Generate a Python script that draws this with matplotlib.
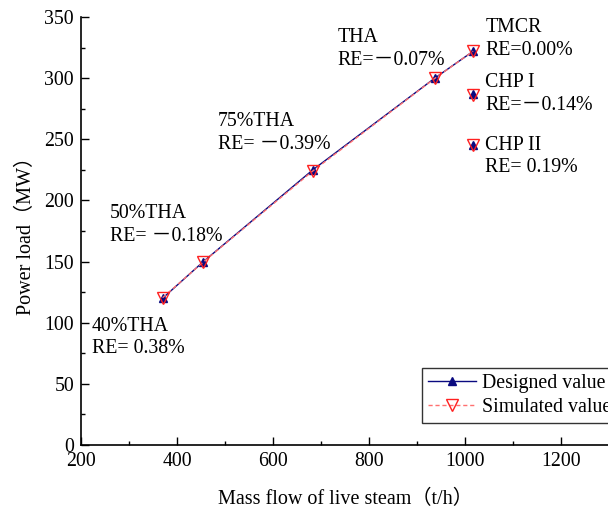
import matplotlib
matplotlib.use("Agg")
import matplotlib.pyplot as plt
from matplotlib.ticker import MultipleLocator

plt.rcParams['font.family'] = ['Liberation Serif', 'Noto Sans CJK SC']

# Operating conditions along the main load line
line_cases = ["40%THA", "50%THA", "75%THA", "THA", "TMCR"]
line_flow = [370, 455, 683, 937, 1017]          # t/h
line_design = [120, 150, 225, 300, 322]          # MW
line_re = [0.38, -0.18, -0.39, -0.07, 0.00]      # %

# Combined heat and power conditions (no connecting line)
chp_cases = ["CHP I", "CHP II"]
chp_flow = [1017, 1017]
chp_design = [287, 245]
chp_re = [-0.14, 0.19]

line_sim = [d * (1 + r / 100) for d, r in zip(line_design, line_re)]
chp_sim = [d * (1 + r / 100) for d, r in zip(chp_design, chp_re)]

# Annotation labels and their anchor positions (data coordinates)
labels = ["40%THA\nRE= 0.38%", "50%THA\nRE= －0.18%", "75%THA\nRE= －0.39%",
          "THA\nRE=－0.07%", "TMCR\nRE=0.00%", "CHP I\nRE=－0.14%", "CHP II\nRE= 0.19%"]
label_x = [223, 260, 485, 735, 1042, 1042, 1042]
label_y = [88, 180, 255, 324, 332, 287, 236]

navy = "#0A0A80"
red = "#FF2020"

fig = plt.figure(figsize=(6.08, 5.11), dpi=100)
ax = fig.add_axes([81 / 608, 66 / 511, 528 / 608, 428 / 511])

ax.plot(line_flow, line_design, color=navy, lw=1.0, marker="^", ms=5.5,
        mfc=navy, mec=navy, label="Designed value", zorder=3)
ax.plot(line_flow, line_sim, color="#FF7070", lw=1.0, ls=(0, (3, 2)), marker="v", ms=9,
        mfc="none", mec=red, mew=1.0, label="Simulated value", zorder=4)
ax.plot(chp_flow, chp_design, ls="none", marker="^", ms=5.5, mfc=navy, mec=navy, zorder=3)
ax.plot(chp_flow, chp_sim, ls="none", marker="v", ms=9, mfc="none", mec=red, mew=1.0, zorder=4)

for t, x, y in zip(labels, label_x, label_y):
    ax.text(x, y, t, fontsize=14.3, ha="left", va="center", linespacing=1.25)

ax.set_xlim(200, 1300)
ax.set_ylim(0, 350)
ax.xaxis.set_major_locator(MultipleLocator(200))
ax.xaxis.set_minor_locator(MultipleLocator(100))
ax.yaxis.set_major_locator(MultipleLocator(50))
ax.yaxis.set_minor_locator(MultipleLocator(25))
ax.tick_params(which="both", direction="in", labelsize=14.3, width=1.0)
ax.tick_params(which="major", length=6, pad=5)
ax.tick_params(which="minor", length=3)

for s in ["top", "right"]:
    ax.spines[s].set_visible(False)
for s in ["left", "bottom"]:
    ax.spines[s].set_linewidth(1.2)

ax.set_xlabel("Mass flow of live steam（t/h）", fontsize=14.5, labelpad=14)
ax.set_ylabel("Power load（MW）", fontsize=14.5, labelpad=6)

leg = fig.legend(loc="upper left", bbox_to_anchor=(422 / 608, 1 - 368 / 511),
                 fontsize=14.3, frameon=True, fancybox=False, edgecolor="black",
                 handlelength=2.4, handletextpad=0.3, borderpad=0.3, labelspacing=0.25,
                 borderaxespad=0)
leg.get_frame().set_linewidth(1.0)

fig.savefig("out.png", dpi=100)
